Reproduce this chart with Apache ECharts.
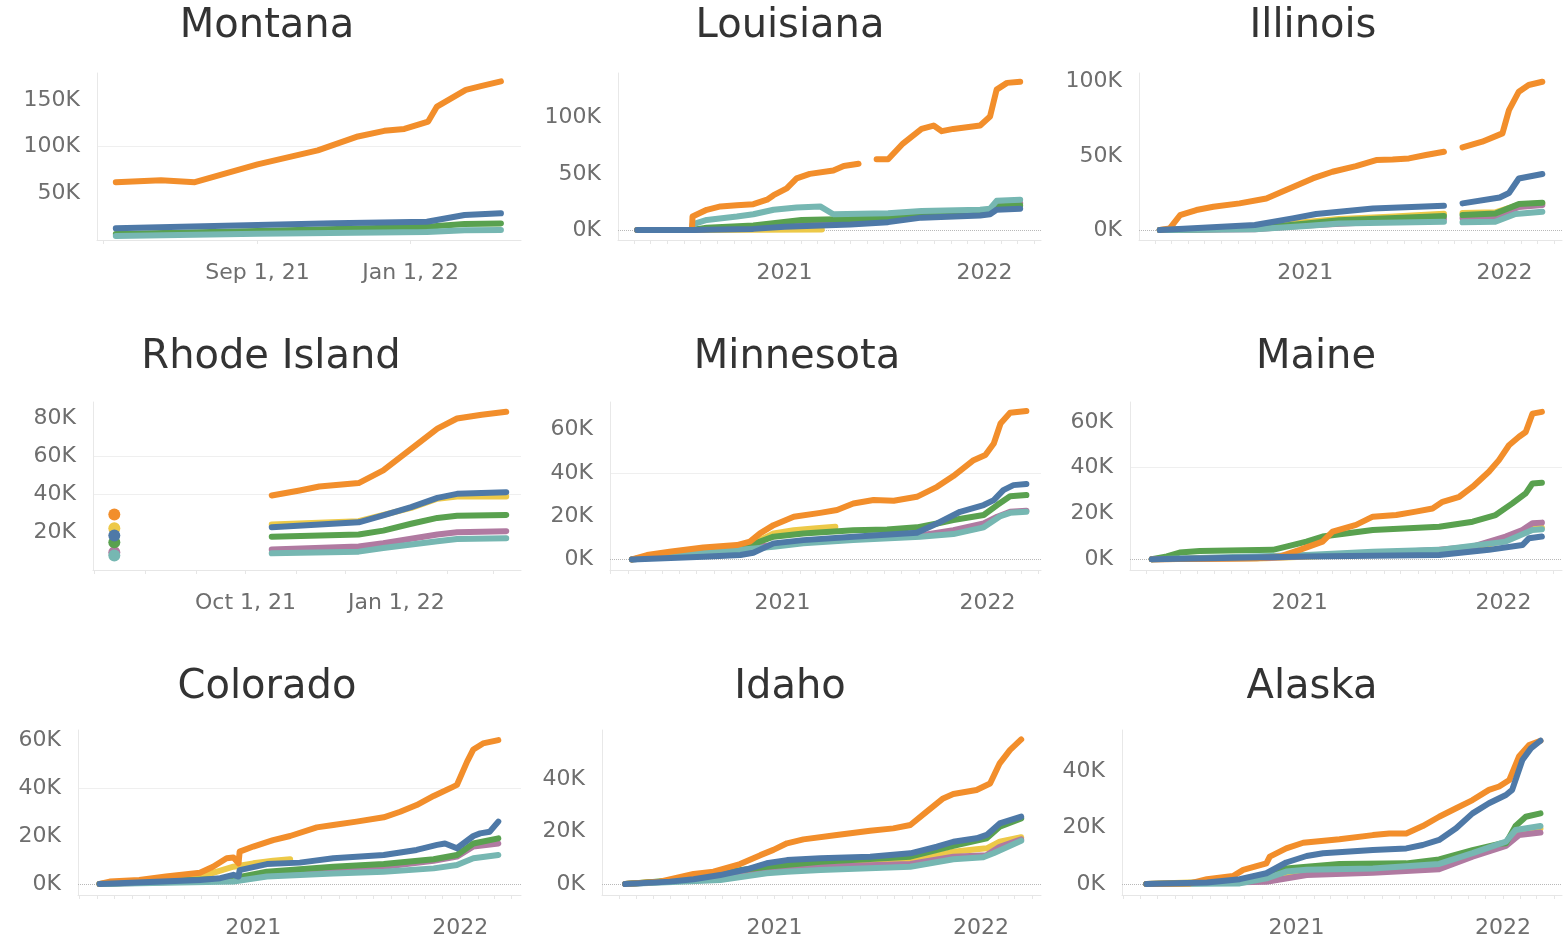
<!DOCTYPE html>
<html>
<head>
<meta charset="utf-8">
<title>Cumulative counts by state</title>
<script src="https://cdn.jsdelivr.net/npm/echarts@6/dist/echarts.min.js"></script>
<style>
  html, body { margin: 0; padding: 0; background: #fff; }
  #chart { width: 1563px; height: 944px; }
</style>
</head>
<body>
<div id="chart"></div>
<script>
// all values in thousands (K)

// Montana
var mtOrange = [['2021-05-11',62],['2021-06-16',64],['2021-07-13',62],['2021-09-01',81],['2021-10-19',96],['2021-11-20',111],['2021-12-11',117],['2021-12-27',119],['2022-01-15',127],['2022-01-22',143],['2022-02-14',161],['2022-02-26',165],['2022-03-14',170]];
var mtBlue = [['2021-05-11',12.5],['2021-09-01',16],['2021-11-01',18],['2022-01-14',19.6],['2022-02-13',26.8],['2022-03-14',28.6]];
var mtGreen = [['2021-05-11',6.5],['2021-09-01',9.6],['2022-01-14',14.3],['2022-02-13',17.1],['2022-03-14',17.8]];
var mtTeal = [['2021-05-11',4.3],['2021-09-01',6.8],['2022-01-14',8.6],['2022-02-13',10.5],['2022-03-14',10.7]];
var mtTicks = [50, 100, 150];
var mtXLabels = ['2021-09-01', '2022-01-01'];

// Louisiana
var laOrange = [['2020-04-07',0],['2020-07-16',0],['2020-07-17',12],['2020-08-12',18],['2020-09-06',21],['2020-10-06',22],['2020-11-05',23],['2020-11-30',27],['2020-12-12',31],['2021-01-05',37],['2021-01-23',46],['2021-02-16',50],['2021-03-31',53],['2021-04-19',57],['2021-05-16',59],['2021-06-01',null],['2021-06-18',63],['2021-07-09',63],['2021-08-05',77],['2021-09-08',90],['2021-09-30',93],['2021-10-15',88],['2021-11-05',90],['2021-12-24',93],['2022-01-11',101],['2022-01-23',125],['2022-02-11',131],['2022-03-07',132]];
var laTeal = [['2020-04-07',0],['2020-07-16',0],['2020-07-17',5],['2020-08-12',9],['2020-10-06',12],['2020-11-05',14],['2020-12-12',18],['2021-01-23',20],['2021-03-07',21],['2021-03-31',14],['2021-07-09',15],['2021-09-08',17],['2021-12-24',18],['2022-01-11',19],['2022-01-23',26],['2022-03-07',27]];
var laGreen = [['2020-04-07',0],['2020-07-16',0],['2020-08-12',2],['2020-11-05',4],['2021-02-01',9],['2021-05-16',10],['2021-09-08',13],['2021-12-24',15],['2022-01-23',21],['2022-03-07',22]];
var laPurple = [['2020-04-07',0],['2020-07-16',0],['2020-11-05',3],['2021-03-01',8],['2021-09-08',12],['2021-12-24',14],['2022-01-23',22],['2022-03-07',24]];
var laYellow = [['2020-07-16',0],['2021-03-10',0.5]];
var laBlue = [['2020-04-07',0],['2020-07-16',0],['2020-11-05',1],['2021-01-01',3],['2021-05-01',5],['2021-07-09',7],['2021-09-08',11],['2021-12-24',13],['2022-01-11',14],['2022-01-23',18],['2022-03-07',19]];
var laTicks = [0, 50, 100];

// Illinois
var ilOrange = [['2020-04-10',0],['2020-04-28',1],['2020-05-17',10],['2020-06-16',13.5],['2020-07-17',15.7],['2020-09-03',18],['2020-10-22',21.3],['2020-11-27',27],['2021-01-15',34.8],['2021-02-20',39.3],['2021-04-04',43.1],['2021-05-11',47.2],['2021-06-10',47.6],['2021-07-10',48.3],['2021-08-10',50.6],['2021-09-12',52.8],['2021-09-25',null],['2021-10-16',55.7],['2021-11-21',59.6],['2021-12-28',65.2],['2022-01-09',80.9],['2022-01-27',93.3],['2022-02-14',97.8],['2022-03-11',100]];
var ilBlue = [['2020-04-10',0],['2020-10-01',3.4],['2020-12-09',7.9],['2021-01-21',10.8],['2021-05-05',14.6],['2021-09-12',16.4],['2021-09-25',null],['2021-10-16',18],['2021-12-23',22],['2022-01-09',25],['2022-01-27',34.8],['2022-03-11',37.8]];
var ilGreen = [['2020-04-10',0],['2020-10-01',1],['2021-01-03',4.5],['2021-03-04',6.7],['2021-06-04',7.9],['2021-09-12',9.4],['2021-09-25',null],['2021-10-16',10.1],['2021-12-15',11.2],['2022-01-27',17.5],['2022-03-11',18.4]];
var ilYellow = [['2020-04-10',0],['2020-10-01',1.5],['2021-01-03',5.5],['2021-03-04',7.5],['2021-06-04',9],['2021-09-12',11],['2021-09-25',null],['2021-10-16',11.5],['2021-12-15',12],['2022-01-27',17],['2022-03-11',18]];
var ilPurple = [['2020-04-10',0],['2020-10-01',0.5],['2021-01-03',3],['2021-06-04',6],['2021-09-12',7.5],['2021-09-25',null],['2021-10-16',8],['2021-12-15',9],['2022-01-27',15.5],['2022-03-11',16.9]];
var ilTeal = [['2020-04-10',0],['2020-10-01',0.5],['2021-01-03',2.7],['2021-03-04',4.5],['2021-09-12',5.6],['2021-09-25',null],['2021-10-16',5.2],['2021-12-15',5.6],['2022-01-21',10.8],['2022-03-11',12.4]];
var ilTicks = [0, 50, 100];

// Rhode Island
var riOrange = [['2021-10-17',39.3],['2021-11-03',42],['2021-11-15',44.1],['2021-12-09',45.9],['2021-12-24',52.6],['2022-01-10',64],['2022-01-26',74.6],['2022-02-07',80],['2022-02-22',82],['2022-03-09',83.5]];
var riBlue = [['2021-10-17',22.6],['2021-12-09',25.2],['2021-12-24',28.8],['2022-01-10',33.2],['2022-01-26',38.1],['2022-02-07',40.2],['2022-03-09',41.1]];
var riYellow = [['2021-10-17',24],['2021-12-09',25.8],['2022-01-10',32.8],['2022-01-26',37.6],['2022-02-07',38.8],['2022-03-09',38.8]];
var riGreen = [['2021-10-17',17.6],['2021-12-09',18.7],['2021-12-24',20.8],['2022-01-10',24.4],['2022-01-26',27.5],['2022-02-07',28.6],['2022-03-09',29.1]];
var riPurple = [['2021-10-17',10.8],['2021-12-09',12.4],['2021-12-24',14.1],['2022-01-26',18.7],['2022-02-07',19.9],['2022-03-09',20.5]];
var riTeal = [['2021-10-17',8.8],['2021-12-09',9.7],['2021-12-24',11.6],['2022-01-26',15.2],['2022-02-07',16.4],['2022-03-09',16.8]];
var riDotDate = '2021-07-13';
var riDotSeries = ['purple', 'teal', 'yellow', 'green', 'blue', 'orange'];
var riDotValues = [9.4, 7.6, 22, 14.6, 18.2, 29.3];
var riTicks = [20, 40, 60, 80];
var riXLabels = ['2021-10-01', '2022-01-01'];

// Minnesota
var mnOrange = [['2020-04-08',0],['2020-05-05',2],['2020-06-14',3.5],['2020-08-13',5.5],['2020-10-12',6.6],['2020-11-04',8.2],['2020-11-22',12],['2020-12-16',15.8],['2021-01-21',19.7],['2021-03-09',21.5],['2021-04-08',22.8],['2021-05-07',25.8],['2021-06-12',27.4],['2021-07-18',27.1],['2021-08-28',28.9],['2021-10-03',33.5],['2021-11-01',38.5],['2021-12-07',45.8],['2021-12-28',48.2],['2022-01-12',53.5],['2022-01-24',62.8],['2022-02-10',67.7],['2022-03-11',68.5]];
var mnYellow = [['2020-04-08',0],['2020-08-13',4.6],['2020-10-12',5.8],['2020-11-10',7.4],['2020-12-16',12],['2021-01-21',13.5],['2021-02-25',14.3],['2021-04-05',15.1]];
var mnGreen = [['2020-04-08',0],['2020-06-14',2.8],['2020-08-13',5.1],['2020-10-18',5.8],['2020-11-10',7.1],['2020-12-16',10.5],['2021-02-07',12],['2021-05-07',13.5],['2021-07-06',13.8],['2021-08-28',14.8],['2021-10-03',16.6],['2021-11-01',18.2],['2021-12-25',20.5],['2022-01-18',25.1],['2022-02-10',29.2],['2022-03-11',29.7]];
var mnBlue = [['2020-04-08',0],['2020-08-13',1.2],['2020-10-18',2],['2020-11-10',3.1],['2020-12-16',7.4],['2021-02-07',8.9],['2021-05-07',10.5],['2021-08-28',12.3],['2021-10-03',16.6],['2021-11-13',22],['2021-12-25',25.1],['2022-01-12',27.4],['2022-01-29',32],['2022-02-16',34.3],['2022-03-11',34.8]];
var mnPurple = [['2020-04-08',0],['2020-12-16',6.6],['2021-05-07',9.7],['2021-08-28',10.8],['2021-11-01',13.5],['2021-12-25',16.6],['2022-01-18',19.7],['2022-02-10',22],['2022-03-11',22.5]];
var mnTeal = [['2020-04-08',0],['2020-12-16',5.8],['2021-02-07',7.4],['2021-05-07',8.9],['2021-09-03',10.5],['2021-11-01',11.7],['2021-12-25',14.8],['2022-01-24',20],['2022-02-10',21.5],['2022-03-11',22]];
var mnTicks = [0, 20, 40, 60];

// Maine
var meOrange = [['2020-04-11',0],['2020-10-16',0.4],['2020-11-26',1.2],['2021-01-01',4.1],['2021-02-11',7.7],['2021-03-01',12.1],['2021-04-12',15],['2021-05-12',18.6],['2021-06-23',19.3],['2021-07-28',20.8],['2021-08-27',22.2],['2021-09-14',25.1],['2021-10-14',27.3],['2021-11-07',31.7],['2021-12-06',38.2],['2021-12-24',43.3],['2022-01-11',49.8],['2022-01-29',53.5],['2022-02-10',55.6],['2022-02-22',63.6],['2022-03-11',64.4]];
var meGreen = [['2020-04-11',0],['2020-05-08',1.2],['2020-05-31',2.9],['2020-07-06',3.6],['2020-11-14',4.1],['2020-12-08',5.5],['2021-01-13',7.7],['2021-02-11',9.9],['2021-05-12',12.8],['2021-09-08',14.2],['2021-11-07',16.4],['2021-12-18',19.3],['2022-01-17',24.4],['2022-02-10',28.8],['2022-02-22',33.1],['2022-03-11',33.4]];
var mePurple = [['2020-04-11',0],['2020-11-01',0.5],['2021-05-12',2.6],['2021-09-08',4.1],['2021-11-07',5.5],['2022-01-05',9.9],['2022-02-04',12.8],['2022-02-22',15.7],['2022-03-11',16]];
var meYellow = [['2020-04-11',0],['2020-11-01',0.4],['2021-05-12',2.3],['2021-11-07',4.8],['2022-01-05',8.4],['2022-02-22',13.5],['2022-03-11',13.8]];
var meTeal = [['2020-04-11',0],['2021-01-13',1.9],['2021-05-12',3.3],['2021-09-08',4.1],['2022-01-05',7.7],['2022-02-22',12.8],['2022-03-11',13.1]];
var meBlue = [['2020-04-11',0],['2021-01-13',1.2],['2021-09-08',1.9],['2021-12-06',4.1],['2022-02-04',6.2],['2022-02-16',9.2],['2022-03-11',9.9]];
var meTicks = [0, 20, 40, 60];

// Colorado
var coOrange = [['2020-04-05',0],['2020-04-23',1],['2020-06-14',1.7],['2020-07-31',3.1],['2020-09-29',4.7],['2020-10-22',7.2],['2020-11-15',10.7],['2020-11-27',11],['2020-12-06',8.6],['2020-12-08',13.5],['2021-01-01',15.6],['2021-02-05',18.3],['2021-03-07',20],['2021-04-23',23.6],['2021-05-22',24.6],['2021-07-02',26],['2021-08-19',27.8],['2021-09-17',30.1],['2021-10-16',32.9],['2021-11-15',36.7],['2021-12-20',40.6],['2021-12-26',41.3],['2022-01-13',51],['2022-01-24',56.1],['2022-02-10',58.6],['2022-03-09',60]];
var coYellow = [['2020-04-05',0],['2020-09-29',3],['2020-11-27',7.2],['2021-01-01',8.6],['2021-02-05',9.7],['2021-03-07',10.3]];
var coBlue = [['2020-04-05',0],['2020-09-29',1.7],['2020-11-04',2.4],['2020-11-27',3.8],['2020-12-06',3.1],['2020-12-08',5.8],['2021-01-25',8.3],['2021-03-24',8.9],['2021-05-22',10.7],['2021-08-19',12.1],['2021-10-16',14.2],['2021-11-21',16.3],['2021-12-05',16.9],['2021-12-26',14.9],['2022-01-24',20],['2022-02-05',21.1],['2022-02-22',21.8],['2022-03-09',26]];
var coGreen = [['2020-04-05',0],['2020-11-27',2.4],['2021-01-25',5.1],['2021-05-22',7.2],['2021-08-19',8.3],['2021-11-15',10.3],['2021-12-26',12.1],['2022-01-24',16.9],['2022-03-09',19]];
var coPurple = [['2020-04-05',0],['2020-11-27',1.5],['2021-01-25',4.2],['2021-05-22',6.1],['2021-08-19',7.2],['2021-11-15',9.7],['2021-12-26',11.4],['2022-01-24',15.6],['2022-03-09',16.9]];
var coTeal = [['2020-04-05',0],['2020-11-27',1],['2021-01-25',3.1],['2021-05-22',4.4],['2021-08-19',5.1],['2021-11-15',6.5],['2021-12-26',7.9],['2022-01-24',10.7],['2022-03-09',12.1]];
var coTicks = [0, 20, 40, 60];

// Idaho
var idOrange = [['2020-04-12',0],['2020-06-12',0.9],['2020-08-11',3.8],['2020-09-15',4.7],['2020-11-01',7.6],['2020-12-07',11],['2020-12-30',13],['2021-01-23',15.5],['2021-02-21',17],['2021-04-21',18.7],['2021-06-19',20.3],['2021-07-30',21.2],['2021-08-29',22.5],['2021-09-27',27.6],['2021-10-26',32.6],['2021-11-13',34.3],['2021-12-24',35.8],['2022-01-17',38.3],['2022-02-03',46],['2022-02-21',51],['2022-03-13',55.1]];
var idBlue = [['2020-04-12',0],['2020-06-30',0.9],['2020-08-11',1.8],['2020-09-27',3.4],['2020-11-13',5.6],['2020-12-18',7.9],['2021-01-23',9.1],['2021-03-23',9.8],['2021-06-19',10.4],['2021-08-29',11.7],['2021-10-15',14.2],['2021-11-13',16.1],['2021-12-24',17.4],['2022-01-11',18.7],['2022-02-03',23.1],['2022-03-13',25.7]];
var idGreen = [['2020-04-12',0],['2020-06-30',1.2],['2020-08-11',2.8],['2020-09-27',4.3],['2020-12-18',6.6],['2021-03-23',8.5],['2021-08-29',10.4],['2021-11-13',14.5],['2022-01-11',17.4],['2022-02-03',21.8],['2022-03-13',25]];
var idYellow = [['2020-04-12',0],['2020-09-27',2.5],['2020-12-18',5.6],['2021-03-23',6.6],['2021-08-29',8.5],['2021-11-13',12.3],['2021-12-24',13.2],['2022-01-11',13.6],['2022-02-03',16.1],['2022-03-13',17.8]];
var idPurple = [['2020-04-12',0],['2020-09-27',2],['2020-12-18',5.3],['2021-03-23',6.6],['2021-08-29',7.6],['2021-11-13',10.4],['2022-01-11',11],['2022-02-03',14.2],['2022-03-13',17]];
var idTeal = [['2020-04-12',0],['2020-09-27',1.5],['2020-12-18',4.1],['2021-01-23',4.7],['2021-03-23',5.3],['2021-08-29',6.6],['2021-11-13',9.4],['2022-01-05',10.2],['2022-01-23',11.7],['2022-03-13',16.5]];
var idTicks = [0, 20, 40];

// Alaska
var akOrange = [['2020-04-11',0],['2020-06-27',0.2],['2020-07-27',1.7],['2020-09-11',2.8],['2020-09-29',5],['2020-11-09',7.3],['2020-11-15',9.7],['2020-12-14',12.6],['2021-01-13',14.6],['2021-03-18',15.8],['2021-05-16',17.3],['2021-06-14',17.9],['2021-07-14',17.9],['2021-08-12',20.5],['2021-09-10',23.8],['2021-10-10',26.8],['2021-11-08',29.7],['2021-12-07',33.3],['2021-12-25',34.5],['2022-01-12',36.8],['2022-01-29',45.1],['2022-02-16',49.2],['2022-03-08',50.7]];
var akBlue = [['2020-04-11',0],['2020-07-27',0.5],['2020-09-23',1.7],['2020-11-09',3.8],['2020-12-14',7.6],['2021-01-19',9.9],['2021-02-17',10.9],['2021-05-16',12],['2021-07-14',12.6],['2021-08-12',13.8],['2021-09-10',15.6],['2021-10-10',19.7],['2021-11-08',25],['2021-12-07',28.6],['2022-01-06',31.5],['2022-01-17',33.3],['2022-02-04',43.9],['2022-02-19',48],['2022-03-08',50.7]];
var akGreen = [['2020-04-11',0],['2020-09-23',0.5],['2020-11-09',2.6],['2020-12-14',5.5],['2021-01-19',6.1],['2021-03-18',7.1],['2021-07-14',7.3],['2021-09-10',8.7],['2021-11-08',12],['2021-12-25',14.2],['2022-01-06',14.4],['2022-01-23',20.5],['2022-02-10',23.8],['2022-03-08',25]];
var akTeal = [['2020-04-11',0],['2020-09-23',0.2],['2020-11-09',2],['2020-12-14',4.4],['2021-01-19',5],['2021-05-16',5.5],['2021-09-10',7.1],['2021-11-08',10.9],['2022-01-06',15],['2022-01-23',19.1],['2022-03-08',20.5]];
var akPurple = [['2020-04-11',0],['2020-11-09',0.8],['2021-01-19',3.2],['2021-05-16',4],['2021-09-10',5.2],['2021-11-08',9.7],['2022-01-06',13.5],['2022-01-29',17.3],['2022-03-08',18.2]];
var akYellow = [['2020-04-11',0],['2020-11-09',1.5],['2021-01-19',4.5],['2021-05-16',5],['2021-09-10',6.5],['2021-11-08',10.3],['2022-01-06',14.5],['2022-01-23',18.5],['2022-03-08',19.7]];
var akTicks = [0, 20, 40];

var yearLabels = ['2021-01-01', '2022-01-01'];

var COLORS = { orange: '#f28e2b', blue: '#4e79a7', green: '#59a14f', purple: '#b07aa1', yellow: '#edc948', teal: '#76b7b2' };
var ORDER = ['yellow', 'purple', 'green', 'teal', 'orange', 'blue'];
var MONTHS = ['Jan','Feb','Mar','Apr','May','Jun','Jul','Aug','Sep','Oct','Nov','Dec'];
var FONT = 'DejaVu Sans';

// layout of the 3x3 small multiples
var panels = [
  { title: 'Montana', tx: 262, row: 0, box: [97, 73, 424, 167], y: [0, 179], ticks: mtTicks, zero: false,
    x: ['2021-04-26', '2022-03-30'], xl: mtXLabels, short: true, step: 4,
    s: { orange: mtOrange, blue: mtBlue, green: mtGreen, teal: mtTeal } },
  { title: 'Louisiana', tx: 785, row: 0, box: [618, 73, 423, 167], y: [-8.9, 139.8], ticks: laTicks, zero: true,
    x: ['2020-03-03', '2022-04-14'], xl: yearLabels, step: 1,
    s: { orange: laOrange, blue: laBlue, green: laGreen, teal: laTeal, purple: laPurple, yellow: laYellow } },
  { title: 'Illinois', tx: 1308, row: 0, box: [1139, 73, 423, 167], y: [-6.7, 105.9], ticks: ilTicks, zero: true,
    x: ['2020-03-03', '2022-04-16'], xl: yearLabels, step: 1,
    s: { orange: ilOrange, blue: ilBlue, green: ilGreen, teal: ilTeal, purple: ilPurple, yellow: ilYellow } },
  { title: 'Rhode Island', tx: 266, row: 1, box: [93, 402, 428, 168], y: [0, 88.7], ticks: riTicks, zero: false,
    x: ['2021-06-30', '2022-03-18'], xl: riXLabels, short: true, step: 1,
    s: { orange: riOrange, blue: riBlue, green: riGreen, teal: riTeal, purple: riPurple, yellow: riYellow } },
  { title: 'Minnesota', tx: 792, row: 1, box: [610, 402, 431, 168], y: [-4.9, 72.7], ticks: mnTicks, zero: true,
    x: ['2020-02-29', '2022-04-06'], xl: yearLabels, step: 1,
    s: { orange: mnOrange, blue: mnBlue, green: mnGreen, teal: mnTeal, purple: mnPurple, yellow: mnYellow } },
  { title: 'Maine', tx: 1311, row: 1, box: [1130, 402, 432, 168], y: [-4.7, 68.7], ticks: meTicks, zero: true,
    x: ['2020-03-03', '2022-04-16'], xl: yearLabels, step: 1,
    s: { orange: meOrange, blue: meBlue, green: meGreen, teal: meTeal, purple: mePurple, yellow: meYellow } },
  { title: 'Colorado', tx: 262, row: 2, box: [78, 730, 443, 165], y: [-4.6, 64.2], ticks: coTicks, zero: true,
    x: ['2020-02-27', '2022-04-18'], xl: yearLabels, step: 1,
    s: { orange: coOrange, blue: coBlue, green: coGreen, teal: coTeal, purple: coPurple, yellow: coYellow } },
  { title: 'Idaho', tx: 785, row: 2, box: [602, 730, 439, 165], y: [-4.2, 58.7], ticks: idTicks, zero: true,
    x: ['2020-03-02', '2022-04-17'], xl: yearLabels, step: 1,
    s: { orange: idOrange, blue: idBlue, green: idGreen, teal: idTeal, purple: idPurple, yellow: idYellow } },
  { title: 'Alaska', tx: 1307, row: 2, box: [1122, 730, 440, 165], y: [-3.9, 54.5], ticks: akTicks, zero: true,
    x: ['2020-02-28', '2022-04-15'], xl: yearLabels, step: 1,
    s: { orange: akOrange, blue: akBlue, green: akGreen, teal: akTeal, purple: akPurple, yellow: akYellow } }
];
var titleTops = [2, 333, 663];

function ts(s) { return new Date(s + 'T00:00:00').getTime(); }

function monthTicks(from, to, step) {
  var out = [];
  var a = new Date(ts(from)), b = ts(to);
  var d = new Date(a.getFullYear(), a.getMonth() + 1, 1);
  while (d.getTime() <= b) {
    if (d.getMonth() % step === 0) out.push(d.getTime());
    d = new Date(d.getFullYear(), d.getMonth() + 1, 1);
  }
  return out;
}

function toPoints(rows) {
  return rows.map(function (r) { return [ts(r[0]), r[1] === null ? '-' : r[1]]; });
}

var option = { animation: false, backgroundColor: '#fff', title: [], grid: [], xAxis: [], yAxis: [], series: [] };

panels.forEach(function (p, i) {
  option.title.push({
    text: p.title, left: p.tx, top: titleTops[p.row], textAlign: 'center',
    textStyle: { fontFamily: FONT, fontSize: 40, fontWeight: 'normal', color: '#333' }
  });
  option.grid.push({ left: p.box[0], top: p.box[1], width: p.box[2], height: p.box[3] });
  option.xAxis.push({
    type: 'value', gridIndex: i, min: ts(p.x[0]), max: ts(p.x[1]), scale: true,
    axisLine: { show: true, onZero: false, lineStyle: { color: '#e6e6e6', width: 1 } },
    axisTick: { show: true, length: 4, customValues: monthTicks(p.x[0], p.x[1], p.step), lineStyle: { color: '#e6e6e6' } },
    splitLine: { show: false },
    axisLabel: {
      customValues: p.xl.map(ts), margin: 22, color: '#6e6e6e', fontFamily: FONT, fontSize: 22,
      formatter: (function (isShort) {
        return function (v) {
          var d = new Date(v);
          if (isShort) return MONTHS[d.getMonth()] + ' ' + d.getDate() + ', ' + String(d.getFullYear()).slice(2);
          return String(d.getFullYear());
        };
      })(p.short)
    }
  });
  option.yAxis.push({
    type: 'value', gridIndex: i, min: p.y[0], max: p.y[1],
    axisLine: { show: true, lineStyle: { color: '#e8e8e8', width: 1 } },
    axisTick: { show: false, customValues: p.ticks.filter(function (v) { return v !== 0; }) },
    splitLine: { show: true, showMinLine: false, showMaxLine: false, lineStyle: { color: '#efefef', width: 1 } },
    axisLabel: {
      customValues: p.ticks, margin: 17, color: '#6e6e6e', fontFamily: FONT, fontSize: 22,
      formatter: function (v) { return v + 'K'; }
    }
  });
  var first = true;
  ORDER.forEach(function (key) {
    if (!p.s[key]) return;
    var ser = {
      type: 'line', name: key, xAxisIndex: i, yAxisIndex: i, data: toPoints(p.s[key]),
      showSymbol: false, connectNulls: false, silent: true,
      lineStyle: { color: COLORS[key], width: 6, cap: 'round', join: 'round' },
      itemStyle: { color: COLORS[key] }
    };
    if (first && p.zero) {
      ser.markLine = {
        silent: true, symbol: 'none', z: 1, label: { show: false },
        lineStyle: { color: '#b8b8b8', type: 'dotted', width: 1 },
        data: [{ yAxis: 0 }]
      };
    }
    first = false;
    option.series.push(ser);
  });
});

// Rhode Island: early single observations shown as dots
riDotSeries.forEach(function (key, k) {
  option.series.push({
    type: 'scatter', xAxisIndex: 3, yAxisIndex: 3, silent: true,
    symbolSize: 12, itemStyle: { color: COLORS[key], opacity: 1 },
    data: [[ts(riDotDate), riDotValues[k]]]
  });
});

var chart = echarts.init(document.getElementById('chart'));
chart.setOption(option);
</script>
</body>
</html>
